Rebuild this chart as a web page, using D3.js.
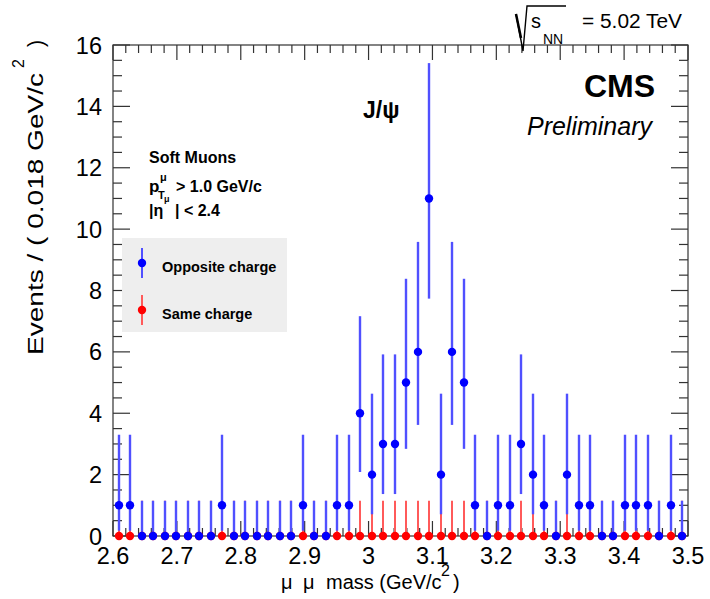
<!DOCTYPE html>
<html>
<head>
<meta charset="utf-8">
<script src="https://cdn.jsdelivr.net/npm/d3@7"></script>
<style>
  body { margin: 0; background: #fff; }
  text { font-family: "Liberation Sans", Arial, Helvetica, sans-serif; fill: #000; }
</style>
</head>
<body>
<svg width="710" height="599"></svg>
<script>
// bin centres (0.018 GeV/c2 bins from 2.6 to 3.5)
const binCenters = [2.609, 2.627, 2.645, 2.663, 2.681, 2.699, 2.717, 2.735, 2.753, 2.771,
                    2.789, 2.807, 2.825, 2.843, 2.861, 2.879, 2.897, 2.915, 2.933, 2.951,
                    2.969, 2.987, 3.005, 3.023, 3.041, 3.059, 3.077, 3.095, 3.113, 3.131,
                    3.149, 3.167, 3.185, 3.203, 3.221, 3.239, 3.257, 3.275, 3.293, 3.311,
                    3.329, 3.347, 3.365, 3.383, 3.401, 3.419, 3.437, 3.455, 3.473, 3.491];
const oppositeCharge = [1, 1, 0, 0, 0, 0, 0, 0, 0, 1,
                        0, 0, 0, 0, 0, 0, 1, 0, 0, 1,
                        1, 4, 2, 3, 3, 5, 6, 11, 2, 6,
                        5, 1, 0, 1, 1, 3, 2, 1, 0, 2,
                        1, 1, 0, 0, 1, 1, 1, 0, 1, 0];
const sameCharge = [0, 0, 0, 0, 0, 0, 0, 0, 0, 0,
                    0, 0, 0, 0, 0, 0, 0, 0, 0, 0,
                    0, 0, 0, 0, 0, 0, 0, 0, 0, 0,
                    0, 0, 0, 0, 0, 0, 0, 0, 0, 0,
                    0, 0, 0, 0, 0, 0, 0, 0, 0, 0];
// asymmetric poisson error band, indexed by the count
const poissonLow  = [0, 0.173, 0.708, 1.367, 2.086, 2.840, 3.620, 4.419, 5.232, 6.057, 6.891, 7.735];
const poissonHigh = [1.148, 3.300, 4.638, 5.918, 7.163, 8.382, 9.584, 10.77, 11.95, 13.11, 14.27, 15.41];
const xTickLabels = ["2.6", "2.7", "2.8", "2.9", "3", "3.1", "3.2", "3.3", "3.4", "3.5"];
const yTickLabels = ["0", "2", "4", "6", "8", "10", "12", "14", "16"];

var svg = d3.select("svg");

var x = d3.scaleLinear().domain([2.6, 3.5]).range([113, 688]);
var y = d3.scaleLinear().domain([0, 16]).range([536, 45]);

// frame
svg.append("rect")
    .attr("x", x(2.6)).attr("y", y(16))
    .attr("width", x(3.5) - x(2.6)).attr("height", y(0) - y(16))
    .attr("fill", "none").attr("stroke", "#333").attr("stroke-width", 1.2);

// ticks, ROOT style: on all four sides, pointing inwards
var ticks = svg.append("g").attr("stroke", "#333").attr("stroke-width", 1.2);
var xMinor = d3.range(0, 46).map(i => 2.6 + i * 0.02);
xMinor.forEach(function (v, i) {
  var len = i % 5 == 0 ? 15 : 8;
  ticks.append("line").attr("x1", x(v)).attr("x2", x(v)).attr("y1", y(0)).attr("y2", y(0) - len);
  ticks.append("line").attr("x1", x(v)).attr("x2", x(v)).attr("y1", y(16)).attr("y2", y(16) + len);
});
var yMinor = d3.range(0, 33).map(i => i * 0.5);
yMinor.forEach(function (v, i) {
  var len = i % 4 == 0 ? 17 : 9;
  ticks.append("line").attr("x1", x(2.6)).attr("x2", x(2.6) + len).attr("y1", y(v)).attr("y2", y(v));
  ticks.append("line").attr("x1", x(3.5)).attr("x2", x(3.5) - len).attr("y1", y(v)).attr("y2", y(v));
});

// tick labels
svg.append("g").selectAll("text").data(xTickLabels).enter().append("text")
    .attr("x", d => x(+d)).attr("y", 564)
    .attr("text-anchor", "middle").attr("font-size", 23.5)
    .text(d => d);
svg.append("g").selectAll("text").data(yTickLabels).enter().append("text")
    .attr("x", 102).attr("y", d => y(+d) + 8.5)
    .attr("text-anchor", "end").attr("font-size", 23.5)
    .text(d => d);

// axis titles
var xt = svg.append("g").attr("font-size", 20);
xt.append("text").attr("x", 281).attr("y", 589).text("\u03bc");
xt.append("text").attr("x", 303).attr("y", 589).text("\u03bc");
xt.append("text").attr("x", 326).attr("y", 589).text("mass (GeV/c");
xt.append("text").attr("x", 453).attr("y", 589).text(")");
xt.append("text").attr("x", 441).attr("y", 576).attr("font-size", 16).text("2");

var yt = svg.append("g").attr("font-size", 21.5);
yt.append("text").attr("transform", "translate(43,355) rotate(-90)")
    .attr("textLength", 282).attr("lengthAdjust", "spacingAndGlyphs")
    .text("Events / ( 0.018 GeV/c");
yt.append("text").attr("transform", "translate(24,68) rotate(-90)").attr("font-size", 16).text("2");
yt.append("text").attr("transform", "translate(43,47) rotate(-90)").text(")");

// error bars then markers
function drawBars(values, color, width) {
  svg.append("g").selectAll("line").data(values).enter().append("line")
      .attr("x1", (d, i) => Math.round(x(binCenters[i]))).attr("x2", (d, i) => Math.round(x(binCenters[i])))
      .attr("y1", d => y(poissonLow[d])).attr("y2", d => y(poissonHigh[d]))
      .attr("stroke", color).attr("stroke-width", width);
}
function drawMarkers(values, color) {
  svg.append("g").selectAll("circle").data(values).enter().append("circle")
      .attr("cx", (d, i) => Math.round(x(binCenters[i]))).attr("cy", d => y(d))
      .attr("r", 4.2).attr("fill", color);
}
drawBars(sameCharge, "#ff5a5a", 2);
drawBars(oppositeCharge, "#5050ff", 2.4);
drawMarkers(sameCharge, "#ff0000");
drawMarkers(oppositeCharge, "#0000ff");

// legend
var leg = svg.append("g");
leg.append("rect").attr("x", 122).attr("y", 238).attr("width", 165).attr("height", 94).attr("fill", "#eeeeee");
[["Opposite charge", "#0000ff", "#5050ff", 263], ["Same charge", "#ff0000", "#ff5a5a", 310]].forEach(function (e) {
  leg.append("line").attr("x1", 142).attr("x2", 142).attr("y1", e[3] - 15).attr("y2", e[3] + 15)
      .attr("stroke", e[2]).attr("stroke-width", 2);
  leg.append("circle").attr("cx", 142).attr("cy", e[3]).attr("r", 4.2).attr("fill", e[1]);
  leg.append("text").attr("x", 162).attr("y", e[3] + 9).attr("font-size", 14.5).attr("font-weight", "bold").text(e[0]);
});

// labels
var lab = svg.append("g").attr("font-weight", "bold");
lab.append("text").attr("x", 149).attr("y", 163).attr("font-size", 16).text("Soft Muons");
lab.append("text").attr("x", 149).attr("y", 192).attr("font-size", 17).text("p");
lab.append("text").attr("x", 160).attr("y", 181).attr("font-size", 11).text("\u03bc");
lab.append("text").attr("x", 158).attr("y", 199).attr("font-size", 11).text("T");
lab.append("text").attr("x", 164).attr("y", 202).attr("font-size", 9).text("\u03bc");
lab.append("text").attr("x", 176).attr("y", 192).attr("font-size", 16).text("> 1.0 GeV/c");
lab.append("text").attr("x", 149).attr("y", 216).attr("font-size", 16).text("|\u03b7");
lab.append("text").attr("x", 175).attr("y", 216).attr("font-size", 16).text("| < 2.4");

lab.append("text").attr("x", 363).attr("y", 118).attr("font-size", 23).text("J/\u03c8");
lab.append("text").attr("x", 655).attr("y", 97).attr("font-size", 32).attr("text-anchor", "end").text("CMS");
svg.append("text").attr("x", 652).attr("y", 135).attr("font-size", 25).attr("font-style", "italic")
    .attr("text-anchor", "end").text("Preliminary");

// sqrt(s_NN) = 5.02 TeV
svg.append("path").attr("d", "M516,14 L523,51 L527,6 L566,6")
    .attr("fill", "none").attr("stroke", "#000").attr("stroke-width", 1.4);
svg.append("path").attr("d", "M516,14 L521,38").attr("stroke", "#000").attr("stroke-width", 2.5);
svg.append("text").attr("x", 531).attr("y", 28).attr("font-size", 20).text("s");
svg.append("text").attr("x", 543).attr("y", 44).attr("font-size", 14).text("NN");
svg.append("text").attr("x", 582).attr("y", 28).attr("font-size", 20)
    .attr("textLength", 100).attr("lengthAdjust", "spacingAndGlyphs").text("= 5.02 TeV");
</script>
</body>
</html>
